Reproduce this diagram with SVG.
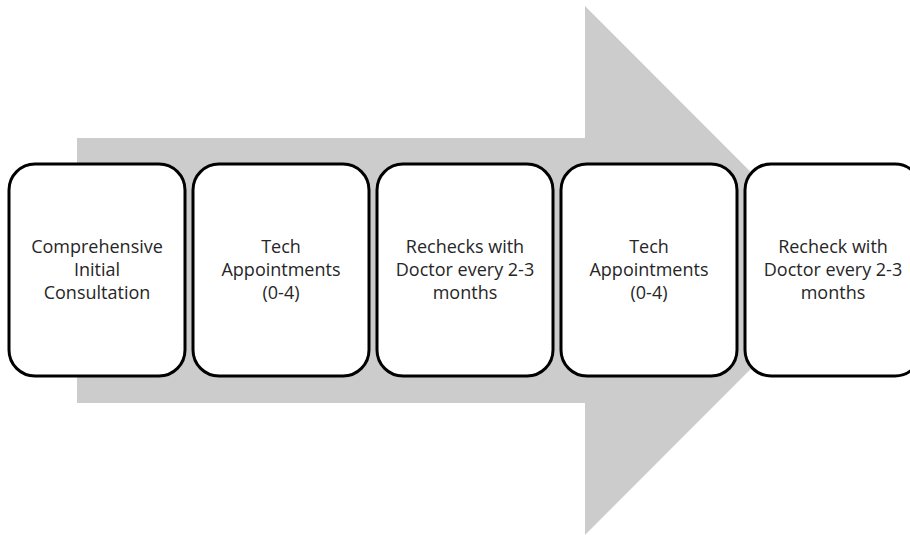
<svg xmlns="http://www.w3.org/2000/svg" width="910" height="535" viewBox="0 0 910 535">
<style>
.box{fill:#fff;stroke:#000;stroke-width:3}
.t{font-family:"Open Sans","Liberation Sans",sans-serif;font-size:18px;fill:#262626;text-anchor:middle}
</style>
<rect width="910" height="535" fill="#fff"/>
<g id="arrow">
<polygon points="77,138 585,138 585,6 849,270.5 585,535 585,403 77,403" fill="#cccccc"/>
</g>
<g id="node1">
<rect class="box" x="9" y="164" width="176" height="212" rx="26"/>
<text class="t"><tspan x="97" y="253">Comprehensive</tspan><tspan x="97" y="276">Initial</tspan><tspan x="97" y="299">Consultation</tspan></text>
</g>
<g id="node2">
<rect class="box" x="193" y="164" width="176" height="212" rx="26"/>
<text class="t"><tspan x="281" y="253">Tech</tspan><tspan x="281" y="276">Appointments</tspan><tspan x="281" y="299">(0-4)</tspan></text>
</g>
<g id="node3">
<rect class="box" x="377" y="164" width="176" height="212" rx="26"/>
<text class="t"><tspan x="465" y="253">Rechecks with</tspan><tspan x="465" y="276">Doctor every 2-3</tspan><tspan x="465" y="299">months</tspan></text>
</g>
<g id="node4">
<rect class="box" x="561" y="164" width="176" height="212" rx="26"/>
<text class="t"><tspan x="649" y="253">Tech</tspan><tspan x="649" y="276">Appointments</tspan><tspan x="649" y="299">(0-4)</tspan></text>
</g>
<g id="node5">
<rect class="box" x="745" y="164" width="176" height="212" rx="26"/>
<text class="t"><tspan x="833" y="253">Recheck with</tspan><tspan x="833" y="276">Doctor every 2-3</tspan><tspan x="833" y="299">months</tspan></text>
</g>
<g id="connectors"></g>
</svg>
